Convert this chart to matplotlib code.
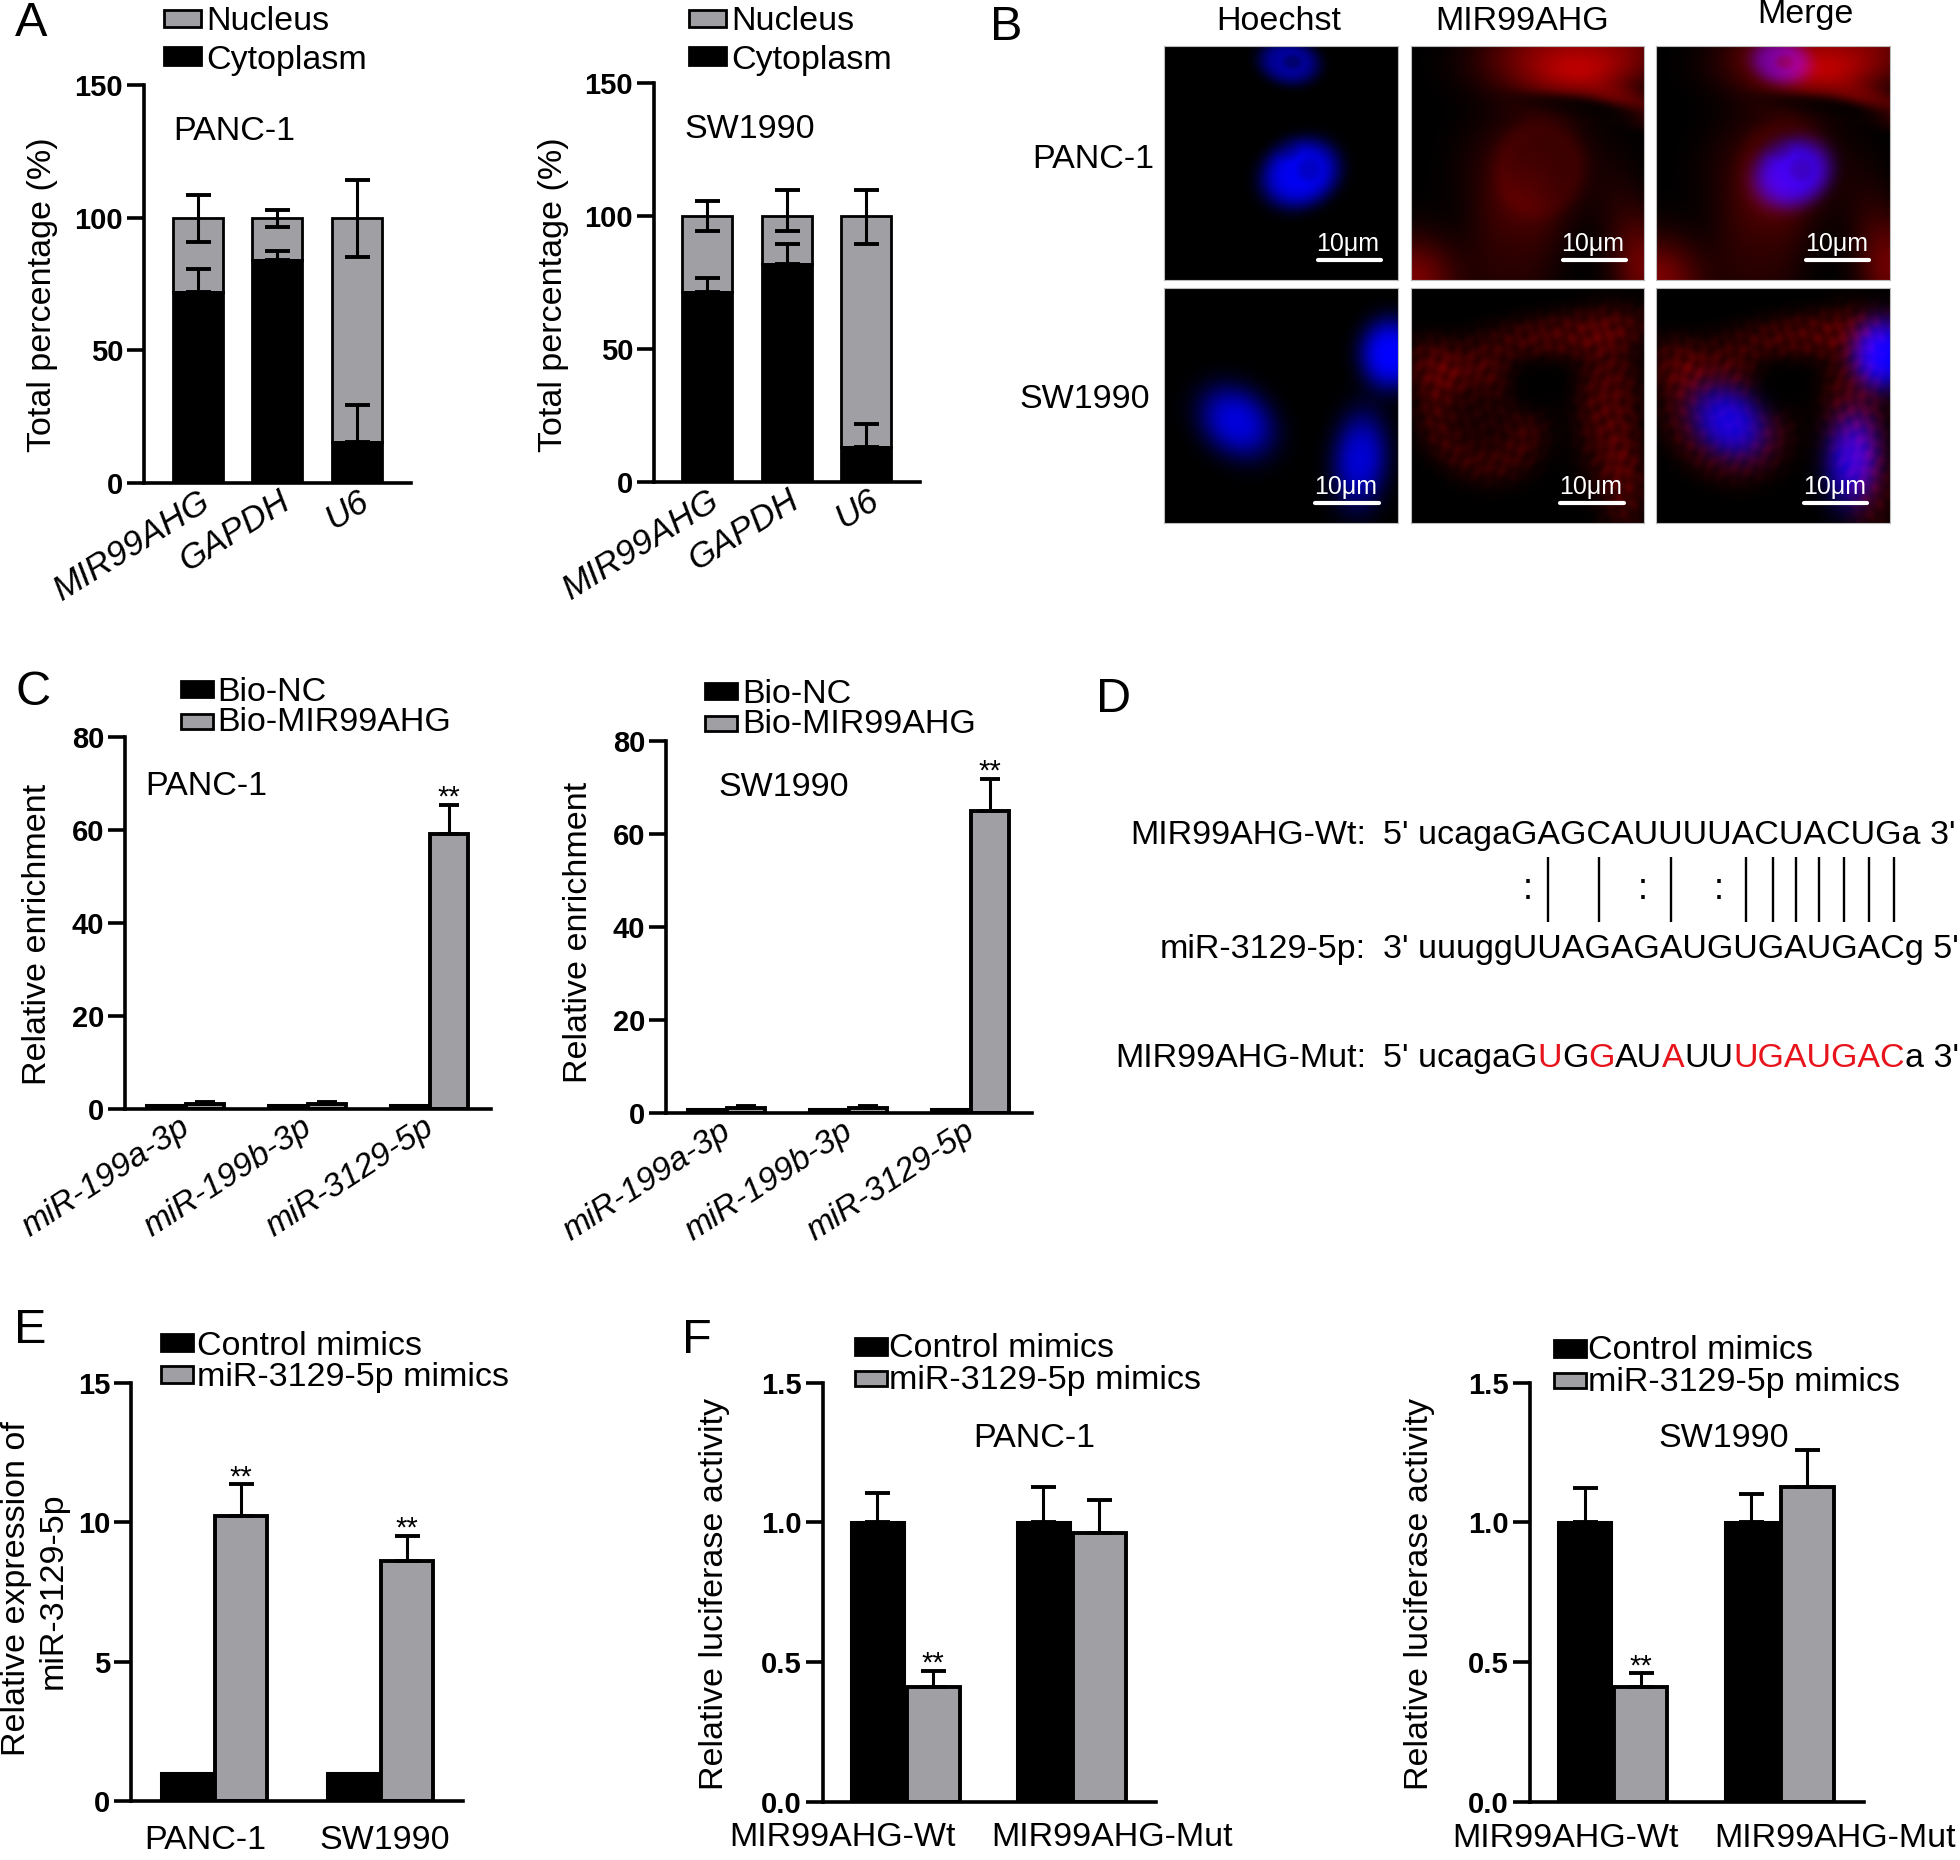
import matplotlib
matplotlib.use('Agg')
import matplotlib.pyplot as plt
from matplotlib.patches import Rectangle
from matplotlib.transforms import ScaledTranslation
import numpy as np

plt.rcParams['font.family'] = ['Liberation Sans', 'DejaVu Sans']

W, H = 1960, 1860
BLACK = '#000000'
GREY = '#a0a0a4'
RED = '#e8141c'

# panel A, stacked percentages
a_genes = ['MIR99AHG', 'GAPDH', 'U6']
a1_cyto = [72, 84, 15.5]
a1_cyto_top = [80.6, 87.4, 29.5]
a1_nuc_top = [108.6, 103, 114.2]
a1_nuc_low = [91, 96.6, 85.3]
a2_cyto = [71.5, 82, 13]
a2_cyto_top = [76.8, 89.5, 21.7]
a2_nuc_top = [105.6, 110, 110]
a2_nuc_low = [94.3, 94.5, 89.5]

# panel C, enrichment
c_mirs = ['miR-199a-3p', 'miR-199b-3p', 'miR-3129-5p']
c_nc = [0.8, 0.8, 0.8]
c1_bio = [0.9, 0.9, 59.2]
c1_bio_top = [1.5, 1.4, 65.4]
c2_bio = [0.9, 0.9, 65]
c2_bio_top = [1.3, 1.4, 71.9]

# panel E, mimics expression
e_lines = ['PANC-1', 'SW1990']
e_ctrl = [1, 1]
e_mimic = [10.2, 8.6]
e_mimic_top = [11.35, 9.5]

# panel F, luciferase
f_groups = ['MIR99AHG-Wt', 'MIR99AHG-Mut']
f1_ctrl = [1.0, 1.0]
f1_ctrl_top = [1.103, 1.125]
f1_mimic = [0.41, 0.96]
f1_mimic_top = [0.467, 1.08]
f2_ctrl = [1.0, 1.0]
f2_ctrl_top = [1.122, 1.1]
f2_mimic = [0.41, 1.125]
f2_mimic_top = [0.46, 1.26]

# panel D, sequences
d_names = ['MIR99AHG-Wt:', 'miR-3129-5p:', 'MIR99AHG-Mut:']
d_wt = "5' ucagaGAGCAUUUUACUACUGa 3'"
d_mir = "3' uuuggUUAGAGAUGUGAUGACg 5'"
d_mut = [("5' ucagaG", BLACK), ('U', RED), ('G', BLACK), ('G', RED), ('AU', BLACK), ('A', RED),
         ('UU', BLACK), ('UGAUGAC', RED), ("a 3'", BLACK)]
d_pair_x = [1548, 1598.5, 1671, 1745.5, 1772.5, 1796, 1818.5, 1844, 1869, 1893.7]
d_colon_x = [1528, 1643, 1719]

fig = plt.figure(figsize=(W / 100, H / 100), dpi=100, facecolor='white')
over = fig.add_axes([0, 0, 1, 1], zorder=20)
over.set_xlim(0, W)
over.set_ylim(H, 0)
over.axis('off')


def label(x, y, s, size=24.5, ha='left', va='center', rotation=0, **kw):
    # text sits slightly high with va=center, nudge it
    if rotation:
        x += 3
    else:
        y += 3
    return over.text(x, y, s, fontsize=size, ha=ha, va=va, rotation=rotation, **kw)


def swatch(x0, x1, y0, y1, color):
    over.add_patch(Rectangle((x0, y0), x1 - x0, y1 - y0, facecolor=color, edgecolor=BLACK, lw=2))


def panel(left, right, top, zero, ymax, yticks, first, step, names, dx, rot=0, pad=14, fmt='%d',
          style='normal', size=24.5):
    ax = fig.add_axes([left / W, 1 - zero / H, (right - left) / W, (zero - top) / H])
    ax.patch.set_visible(False)
    ax.set_xlim((left - first) / step, (right - first) / step)
    ax.set_ylim(0, ymax)
    for s in ['top', 'right']:
        ax.spines[s].set_visible(False)
    for s in ['left', 'bottom']:
        ax.spines[s].set_linewidth(2.6)
    ax.set_yticks(yticks)
    ax.set_yticklabels([fmt % v for v in yticks], fontsize=21, fontweight='bold')
    ax.tick_params(axis='y', length=12, width=2.6, pad=3)
    ax.tick_params(axis='x', length=0, pad=pad)
    ax.set_xticks(range(len(names)))
    if rot:
        labs = ax.set_xticklabels(names, rotation=rot, ha='right', rotation_mode='anchor',
                                  style=style, fontsize=size)
    else:
        labs = ax.set_xticklabels(names, ha='center', fontsize=size)
    for lab, d in zip(labs, dx):
        lab.set_transform(lab.get_transform() + ScaledTranslation(d / 100, 0, fig.dpi_scale_trans))
    return ax


def up_err(ax, x, val, top, capsize=9):
    val = np.array(val, dtype=float)
    ax.errorbar(x, val, yerr=[np.zeros(len(val)), np.array(top) - val], fmt='none', ecolor=BLACK,
                elinewidth=2.2, capsize=capsize, capthick=2.8, zorder=5)


def stacked(ax, cyto, cyto_top, nuc_top, nuc_low, width):
    x = np.arange(len(cyto))
    cyto = np.array(cyto, dtype=float)
    ax.bar(x, 100 - cyto, width, bottom=cyto, color=GREY, edgecolor=BLACK, lw=2)
    ax.bar(x, cyto, width, color=BLACK, edgecolor=BLACK, lw=2)
    up_err(ax, x, cyto, cyto_top)
    hundred = np.full(len(cyto), 100.0)
    ax.errorbar(x, hundred, yerr=[hundred - np.array(nuc_low), np.array(nuc_top) - hundred], fmt='none',
                ecolor=BLACK, elinewidth=2.2, capsize=9, capthick=2.8, zorder=5)


def grouped(ax, dark, light, light_top, width, dist, dark_top=None, capsize=9, stars=(), star_off=-5):
    x = np.arange(len(dark))
    ax.bar(x - dist / 2, dark, width, color=BLACK, edgecolor=BLACK, lw=2.2)
    ax.bar(x + dist / 2, light, width, color=GREY, edgecolor=BLACK, lw=2.8)
    if dark_top is not None:
        up_err(ax, x - dist / 2, dark, dark_top, capsize)
    up_err(ax, x + dist / 2, light, light_top, capsize)
    for i in stars:
        ax.annotate('**', (i + dist / 2, light_top[i]), xytext=(0, star_off), textcoords='offset points',
                    ha='center', va='bottom', fontsize=21)


# ---- A
ax = panel(144, 411, 85, 483, 150, [0, 50, 100, 150], 197.5, 79.5, a_genes, [1, 1, 1], rot=32, pad=1,
           style='italic', size=25)
stacked(ax, a1_cyto, a1_cyto_top, a1_nuc_top, a1_nuc_low, 50 / 79.5)
ax = panel(654, 920, 83.5, 482, 150, [0, 50, 100, 150], 707, 79.5, a_genes, [1, 1, 1], rot=32, pad=1,
           style='italic', size=25)
stacked(ax, a2_cyto, a2_cyto_top, a2_nuc_top, a2_nuc_low, 50 / 79.5)
for x0, xt in [(164, 206), (689, 731)]:
    swatch(x0, x0 + 37, 10, 27, GREY)
    swatch(x0, x0 + 37, 47, 65, BLACK)
    label(xt, 18, 'Nucleus')
    label(xt, 57, 'Cytoplasm')
label(173, 128, 'PANC-1')
label(684, 127, 'SW1990')
label(39, 295, 'Total percentage (%)', rotation=90, ha='center')
label(550, 295, 'Total percentage (%)', rotation=90, ha='center')
label(15, 21, 'A', size=35)

# ---- C
ax = panel(125, 491, 737, 1108.5, 80, [0, 20, 40, 60, 80], 185, 122, c_mirs, [-6, -6, -6], rot=33, pad=2,
           style='italic', size=24)
grouped(ax, c_nc, c1_bio, c1_bio_top, 38 / 122, 40 / 122, capsize=7, stars=[2])
ax = panel(666, 1032, 741, 1112.5, 80, [0, 20, 40, 60, 80], 726, 122, c_mirs, [-6, -6, -6], rot=33, pad=2,
           style='italic', size=24)
grouped(ax, c_nc, c2_bio, c2_bio_top, 38 / 122, 40 / 122, capsize=7, stars=[2])
swatch(181, 213, 681, 697, BLACK)
swatch(181, 213, 714, 729, GREY)
label(217, 689, 'Bio-NC')
label(217, 719, 'Bio-MIR99AHG')
swatch(705, 737, 683, 699, BLACK)
swatch(705, 737, 716, 731, GREY)
label(742, 691, 'Bio-NC')
label(742, 721, 'Bio-MIR99AHG')
label(145, 783, 'PANC-1')
label(718, 784, 'SW1990')
label(35, 934, 'Relative enrichment', rotation=90, ha='center')
label(575, 932, 'Relative enrichment', rotation=90, ha='center')
label(15, 689, 'C', size=35)

# ---- E
ax = panel(131, 463, 1382.5, 1801, 15, [0, 5, 10, 15], 214, 165.5, e_lines, [-9, 5], pad=17)
grouped(ax, e_ctrl, e_mimic, e_mimic_top, 52 / 165.5, 54 / 165.5, stars=[0, 1])
swatch(161, 193, 1334, 1351, BLACK)
swatch(161, 193, 1366, 1383, GREY)
label(197, 1343, 'Control mimics')
label(197, 1374, 'miR-3129-5p mimics')
label(14, 1589, 'Relative expression of', rotation=90, ha='center')
label(50, 1591, 'miR-3129-5p', rotation=90, ha='center')
label(14, 1327, 'E', size=35)

# ---- F
ax = panel(822.5, 1155.5, 1382.5, 1801.5, 1.5, [0, 0.5, 1.0, 1.5], 905, 166, f_groups, [-63, 41], pad=15,
           fmt='%.1f', size=24.5)
grouped(ax, f1_ctrl, f1_mimic, f1_mimic_top, 53 / 166, 56 / 166, dark_top=f1_ctrl_top, stars=[0])
ax = panel(1529.5, 1863.5, 1382.5, 1802, 1.5, [0, 0.5, 1.0, 1.5], 1612.5, 166.5, f_groups, [-47, 56], pad=15,
           fmt='%.1f', size=24.5)
grouped(ax, f2_ctrl, f2_mimic, f2_mimic_top, 53 / 166.5, 56 / 166.5, dark_top=f2_ctrl_top, stars=[0])
for x0, xt, yo in [(855, 889, 0), (1554, 1588, 2)]:
    swatch(x0, x0 + 32, 1338 + yo, 1355 + yo, BLACK)
    swatch(x0, x0 + 32, 1371 + yo, 1386 + yo, GREY)
    label(xt, 1345 + yo, 'Control mimics')
    label(xt, 1377 + yo, 'miR-3129-5p mimics')
label(973, 1435, 'PANC-1')
label(1658, 1435, 'SW1990')
label(711, 1594, 'Relative luciferase activity', rotation=90, ha='center')
label(1416, 1594, 'Relative luciferase activity', rotation=90, ha='center')
label(682, 1337, 'F', size=35)

# ---- D
for y, name in zip([832, 946, 1055], d_names):
    label(1366, y, name, ha='right')
label(1383, 832, d_wt)
label(1383, 946, d_mir)
rend = fig.canvas.get_renderer()
prefix = ''
for piece, col in d_mut:
    off = 0
    if prefix:
        probe = label(0, 0, prefix)
        off = probe.get_window_extent(rend).width
        probe.remove()
    label(1383 + off, 1055, piece, color=col)
    prefix += piece
for x in d_pair_x:
    over.plot([x, x], [857, 922], color=BLACK, lw=1.7, solid_capstyle='butt')
for x in d_colon_x:
    label(x, 886, ':', ha='center', size=26)
label(1096, 696, 'D', size=35)

# ---- B microscopy panels
n = 234
gx, gy = np.meshgrid(np.linspace(0, 1, n), np.linspace(0, 1, n))


def blob(cx, cy, rx, ry, angle=0, sharp=2.0):
    t = np.radians(angle)
    u = (gx - cx) * np.cos(t) + (gy - cy) * np.sin(t)
    v = -(gx - cx) * np.sin(t) + (gy - cy) * np.cos(t)
    r2 = (u / rx) ** 2 + (v / ry) ** 2
    return np.exp(-r2 ** sharp)


top_blue = (0.62 * blob(.535, .07, .13, .095, 10) * (1 - .3 * blob(.55, .07, .04, .03))
            + 0.95 * blob(.583, .547, .17, .14, -25) * (1 - .18 * blob(.62, .53, .05, .05))
            * (1 - .15 * blob(.53, .45, .05, .04)))
top_red = (0.55 * blob(.72, .03, .42, .2, -5, 1.5) + 0.25 * blob(.72, .11, .2, .1, 0, 1)
           + 0.3 * blob(.98, .27, .2, .07, 20, 1.5))
top_red = top_red * (1 - .95 * blob(.72, .27, .3, .05, 8, 1.5)) + 0.2 * blob(.52, .53, .3, .28, 0, 1.5)
top_red += 0.17 * blob(.45, .85, .2, .3, 0, 1.5) + 0.13 * blob(.55, .52, .2, .21, 10, 3) - 0.08 * blob(.55, .53, .14, .16, 10, 3)
top_red += 0.5 * blob(.0, 1.0, .2, .18, 0, 1) + 0.42 * blob(1.0, .95, .12, .22, 0, 1)
top_red += 0.1 * blob(.9, .75, .1, .25, 0, 1)

# soft mottled texture for the lower row
speck = (0.82 + 0.09 * np.sin(gx * 113 + 2.5 * np.sin(gy * 17)) + 0.08 * np.sin(gy * 97 + 2 * np.sin(gx * 23))
         + 0.07 * np.sin((gx + gy) * 71))
low_blue = (1.0 * blob(.97, .28, .13, .15, 0, 1.5) + 0.85 * blob(.31, .57, .17, .135, 40, 1.3)
            + 0.82 * blob(.84, .73, .115, .2, 5, 1.3))
low_red = (0.32 * blob(.65, .2, .42, .1, -8, 1.3) + 0.45 * blob(.3, .55, .28, .24, 40, 2)
           - 0.3 * blob(.3, .56, .18, .16, 40, 2) + 0.35 * blob(.85, .5, .14, .33, 0, 1.3)
           + 0.26 * blob(.92, .85, .1, .2, 0, 1.3) + 0.25 * blob(.08, .32, .12, .12, 30, 1.3))
low_red = low_red * (1 - .95 * blob(.52, .43, .13, .13, 0, 1.5)) * speck
low_red = np.clip(low_red, 0, 1)


def rgb(red, blue):
    im = np.zeros((n, n, 3))
    im[..., 0] = np.clip(red, 0, 1) * 0.95
    im[..., 2] = np.clip(blue, 0, 1)
    return im


zero_ch = np.zeros((n, n))
b_rows = [(46, 280, top_red, top_blue), (288.5, 523, low_red, low_blue)]
b_cols = [(1164, 1398), (1411, 1644), (1656, 1890)]
for y0, y1, red, blue in b_rows:
    ims = [rgb(zero_ch, blue), rgb(red, zero_ch), rgb(red, blue)]
    for (x0, x1), im in zip(b_cols, ims):
        bx = fig.add_axes([x0 / W, 1 - y1 / H, (x1 - x0) / W, (y1 - y0) / H])
        bx.imshow(im, aspect='auto', interpolation='bilinear')
        bx.set_xticks([])
        bx.set_yticks([])
        for s in bx.spines.values():
            s.set_color('#bbbbbb')
            s.set_linewidth(0.8)

bar_spans = [[(1317.5, 1380.5), (1562.5, 1625.5), (1805.5, 1869)], [(1315, 1379), (1560, 1624), (1804, 1867)]]
bar_y = [260.5, 503]
for spans, y in zip(bar_spans, bar_y):
    for x0, x1 in spans:
        over.plot([x0, x1], [y, y], color='white', lw=3, solid_capstyle='round')
        label((x0 + x1) / 2 - 1, y - 19.5, '10μm', size=18, ha='center', color='white')
label(1279, 18, 'Hoechst', ha='center')
label(1522, 18, 'MIR99AHG', ha='center')
label(1805, 11, 'Merge', ha='center')
label(1154, 156, 'PANC-1', ha='right')
label(1150, 396, 'SW1990', ha='right')
label(990, 25, 'B', size=35)

fig.savefig('out.png', dpi=100, facecolor='white')
